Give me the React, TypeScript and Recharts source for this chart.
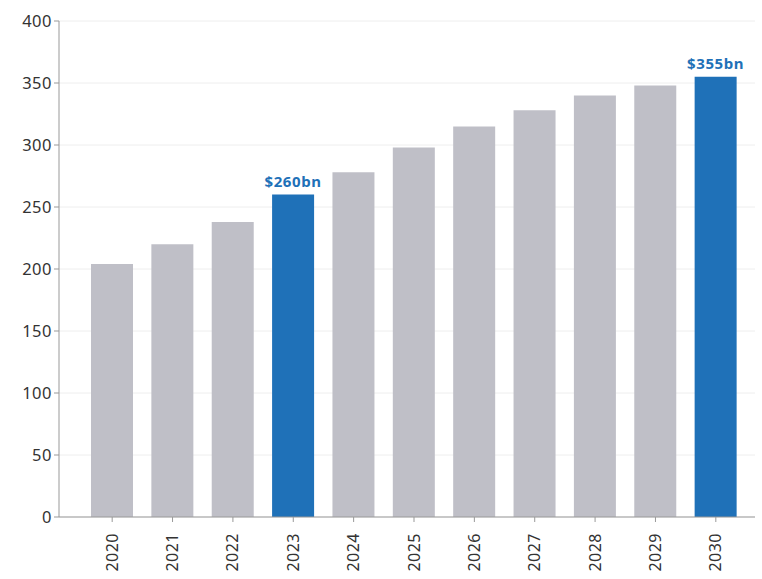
import { BarChart, Bar, XAxis, YAxis, CartesianGrid, Cell, LabelList } from "recharts"

const years = ["2020", "2021", "2022", "2023", "2024", "2025", "2026", "2027", "2028", "2029", "2030"]
const marketSize = [204, 220, 238, 260, 278, 298, 315, 328, 340, 348, 355]
const highlighted = ["2023", "2030"]
const yTicks = [0, 50, 100, 150, 200, 250, 300, 350, 400]

const GRAY = "#bfbfc7"
const BLUE = "#1f71b8"
const FONT = "'Noto Sans', 'Open Sans', sans-serif"

const data = years.map((year, i) => ({ year, value: marketSize[i] }))

function ValueLabel(props: any) {
  const { x, y, width, value, index } = props
  if (!highlighted.includes(years[index])) return null
  return (
    <text
      x={x + width / 2}
      y={y - 8}
      textAnchor="middle"
      fill={BLUE}
      fontSize={15}
      fontWeight={700}
      letterSpacing={0.6}
      fontFamily={FONT}
    >
      ${value}bn
    </text>
  )
}

function YearTick(props: any) {
  const { x, y, payload } = props
  return (
    <text
      x={x}
      y={y}
      transform={`rotate(-90, ${x}, ${y})`}
      dx={-9}
      dy={5.5}
      textAnchor="end"
      fill="#333"
      fontSize={16}
      letterSpacing={0.5}
      fontFamily={FONT}
    >
      {payload.value}
    </text>
  )
}

export default function App() {
  return (
    <div style={{ position: "absolute", left: 0, top: 0, background: "#fff" }}>
      <BarChart
        width={762}
        height={579}
        data={data}
        margin={{ top: 21, right: 7, bottom: 7, left: 0 }}
      >
        <CartesianGrid vertical={false} stroke="#eeeeee" />
        <XAxis
          dataKey="year"
          interval={0}
          height={55}
          padding={{ left: 23, right: 9 }}
          stroke="#999"
          tickSize={5}
          tick={<YearTick />}
        />
        <YAxis
          width={59}
          domain={[0, 400]}
          ticks={yTicks}
          stroke="#999"
          tickSize={5}
          tick={{ fill: "#333", fontSize: 16.5, letterSpacing: 0.5, fontFamily: FONT }}
        />
        <Bar dataKey="value" barSize={42} isAnimationActive={false}>
          {data.map((d) => (
            <Cell key={d.year} fill={highlighted.includes(d.year) ? BLUE : GRAY} />
          ))}
          <LabelList dataKey="value" content={<ValueLabel />} />
        </Bar>
      </BarChart>
    </div>
  )
}
